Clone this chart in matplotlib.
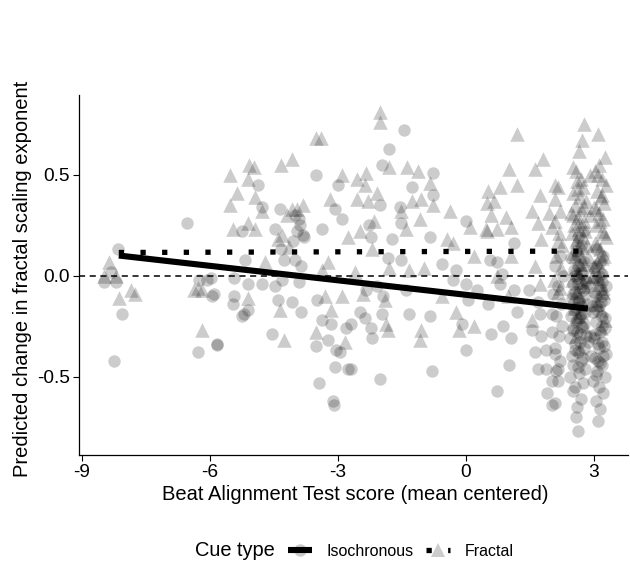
import matplotlib
matplotlib.use("Agg")
import matplotlib.pyplot as plt
from matplotlib.lines import Line2D
from matplotlib.legend_handler import HandlerTuple

plt.rcParams['font.family'] = ['Liberation Sans', 'DejaVu Sans']
plt.rcParams['axes.unicode_minus'] = False

# ---------------- data ----------------
# Isochronous cue (circles)
iso_x = [
    -8.16, -8.32, -8.48, -8.20, -8.06, -8.25,
    -6.54, -6.24, -5.98, -5.95, -6.28, -5.84, -6.07,
    -3.50, -4.88, -3.00, -4.36, -4.78, -4.01, -3.36, -4.48, -5.25, -3.78, -3.07, -2.91,
    -3.95, -3.88, -3.82, -4.05, -3.90,
    -4.32, -4.25, -5.18, -4.00, -3.85,
    -5.42, -5.11, -4.78, -4.48, -4.30, -3.90,
    -5.42, -5.46, -5.11, -5.25, -5.20, -4.41, -4.08, -3.87, -4.53, -3.48, -3.36, -3.24,
    -3.50, -3.03, -2.95, -3.07, -2.77, -3.43, -3.12, -3.10, -5.82, -5.90, -2.80, -3.15,
    -1.44, -1.79, -1.97, -0.78, -1.27, -0.78, -2.02, -1.55, -1.51, -2.26, -1.74, -2.21,
    -0.85, 0.00, -0.55, -1.51, -1.83, -0.22, -0.31, 0.00, -2.33, -2.07, -1.39, -1.95,
    -1.97, -2.49, -2.37, -2.21, -2.19, -1.32, -0.85, -0.08, 0.00, -2.68, -2.02, -0.80,
    0.04, 0.27, -2.68,
    1.14, 0.56, 0.72, 0.84, 0.79, 1.14, 0.51, 1.21, 1.49, 1.68, 1.73, 2.03, 2.03,
    0.86, 0.60, 1.07, 1.54, 1.77, 1.61, 1.89, 2.08, 1.68, 1.89, 2.15, 1.02, 2.03,
    1.91, 2.01, 0.74,
    2.62, 2.58, 2.60, 2.70, 2.50, 2.55, 2.75, 2.45, 2.65, 2.80, 2.52, 2.70, 2.48,
    2.62, 2.78, 2.55, 2.68, 2.45, 2.82, 2.60, 2.50, 2.72, 2.58, 2.66, 2.46, 2.80,
    2.54, 2.70, 2.62, 2.48, 2.76, 2.56, 2.68, 2.50, 2.82, 2.60, 2.72, 2.53, 2.64,
    2.78, 2.47, 2.58, 2.70, 2.62,
    3.10, 3.15, 3.05, 3.22, 3.12, 2.98, 3.25, 3.08, 3.18, 3.02, 3.28, 3.12, 3.20,
    3.00, 3.15, 3.25, 3.06, 3.18, 2.98, 3.12, 3.24, 3.04, 3.16, 3.28, 3.08, 3.20,
    3.00, 3.14, 3.22, 3.06,
    2.10, 2.15, 2.12, 2.20, 2.08, 2.18, 2.25, 2.12, 2.22, 2.05, 2.16, 2.28, 2.10, 2.20,
    2.64, 2.74, 2.56, 2.86, 2.68, 2.50, 2.78, 2.60, 2.70, 2.58,
    2.84, 2.66, 2.52, 2.74, 2.62, 2.80, 2.56, 2.70, 2.64, 2.76,
    3.04, 3.14, 3.22, 3.10, 3.02, 3.18, 3.26, 3.08, 3.16, 3.00,
    3.20, 3.12, 3.06, 3.24, 3.10, 3.18, 2.92, 2.96, 2.90, 2.94,
]
iso_y = [
    0.13, 0.02, -0.03, -0.03, -0.19, -0.42,
    0.26, -0.02, -0.01, -0.10, -0.38, -0.345, -0.02,
    0.50, 0.45, 0.45, 0.33, 0.34, 0.30, 0.23, 0.23, 0.22, 0.19, 0.33, 0.28,
    0.22, 0.25, 0.20, 0.17, 0.28,
    0.13, 0.08, 0.08, 0.08, 0.05,
    -0.01, -0.04, -0.04, -0.05, -0.02, -0.03,
    -0.10, -0.14, -0.17, -0.20, -0.19, -0.12, -0.13, -0.18, -0.29, -0.12, -0.22, -0.32,
    -0.35, -0.37, -0.38, -0.45, -0.46, -0.53, -0.62, -0.64, -0.34, -0.09, -0.26, -0.24,
    0.72, 0.63, 0.55, 0.51, 0.44, 0.40, 0.35, 0.34, 0.26, 0.25, 0.18, 0.19,
    0.19, 0.27, 0.06, 0.08, 0.09, 0.03, -0.02, -0.04, -0.07, -0.05, -0.07, -0.10,
    -0.19, -0.18, -0.21, -0.26, -0.31, -0.19, -0.20, -0.24, -0.37, -0.46, -0.51, -0.47,
    -0.12, -0.07, -0.24,
    0.16, 0.08, 0.07, 0.01, -0.04, -0.07, -0.14, -0.18, -0.07, -0.13, -0.19, -0.19, -0.28,
    -0.25, -0.29, -0.31, -0.27, -0.30, -0.38, -0.37, -0.39, -0.46, -0.46, -0.46, -0.44, -0.52,
    -0.58, -0.64, -0.57,
    -0.77, -0.70, -0.65, -0.61, -0.57, -0.55, -0.53, -0.50, -0.48, -0.46, -0.44, -0.42, -0.40,
    -0.38, -0.36, -0.34, -0.33, -0.31, -0.30, -0.28, -0.26, -0.25, -0.23, -0.21, -0.20, -0.18,
    -0.17, -0.15, -0.13, -0.11, -0.10, -0.08, -0.06, -0.04, -0.03, -0.01, 0.01, 0.03, 0.05,
    0.07, 0.09, 0.12, 0.15, 0.19,
    -0.72, -0.66, -0.62, -0.58, -0.55, -0.52, -0.50, -0.47, -0.44, -0.41, -0.39, -0.36, -0.33,
    -0.31, -0.28, -0.26, -0.23, -0.20, -0.18, -0.15, -0.12, -0.10, -0.07, -0.05, -0.02, 0.01,
    0.04, 0.07, 0.10, 0.13,
    -0.63, -0.52, -0.47, -0.42, -0.36, -0.30, -0.25, -0.20, -0.14, -0.09, -0.05, 0.00, 0.05, 0.10,
    -0.45, -0.41, -0.37, -0.33, -0.29, -0.27, -0.24, -0.22, -0.19, -0.16,
    -0.14, -0.12, -0.09, -0.07, -0.04, -0.02, 0.00, 0.02, 0.10, 0.22,
    -0.49, -0.43, -0.40, -0.34, -0.29, -0.25, -0.21, -0.17, -0.13, -0.08,
    -0.03, 0.00, 0.05, -0.35, -0.42, -0.10, -0.30, -0.15, -0.05, -0.40,
]

# Fractal cue (triangles)
fra_x = [
    -8.37, -8.48, -8.20, -8.13, -7.85, -7.74,
    -6.38, -6.19, -6.28, -6.19,
    -5.53, -5.07, -4.97, -5.11, -5.35, -5.53, -4.95, -5.46, -5.11, -4.78, -4.95,
    -4.32, -4.08, -3.50, -3.40, -3.82, -4.08, -4.71, -4.36, -4.25, -5.11, -3.31,
    -3.50, -3.19, -2.89, -2.91, -2.84, -3.38, -3.24, -3.15, -2.77,
    -4.20, -4.30, -4.15, -4.40, -3.95,
    -2.02, -2.02, -1.79, -1.37, -1.13, -2.33, -2.56, -2.37, -2.07, -2.56, -2.30,
    -0.85, -1.04, -0.78, -1.27, -1.51, -0.38, 0.09, 0.48, -1.08, -1.39, -2.14, -2.49,
    -0.45, -0.31, 0.20, -0.97, -1.32, -1.79, -2.19, -2.60, -0.55, -0.22, -0.15, 0.20,
    -1.04, -1.08, -1.83, -1.86, 0.50, -2.42, -1.90,
    1.21, 1.80, 1.61, 1.02, 1.21, 0.79, 0.51, 2.08, 1.73, 0.67, 1.56, 1.96, 0.60,
    0.95, 1.07, 1.68, 2.03, 0.74, 0.49, 1.77, 2.15, 1.07, 1.61, 0.74, 1.73, 0.98,
    1.54, 2.20,
    2.78, 2.72, 2.66, 2.50, 2.90, 2.60, 2.75, 2.52, 2.68, 2.82, 2.56, 2.70, 2.46,
    2.62, 2.78, 2.54, 2.66, 2.48, 2.74, 2.58, 2.84, 2.62, 2.52, 2.70, 2.80, 2.56,
    2.66, 2.48, 2.76, 2.60, 2.70, 2.54, 2.64, 2.78, 2.58, 2.68,
    3.09, 3.25, 3.12, 3.02, 3.20, 3.28, 3.08, 3.16, 3.24, 3.00, 3.12, 3.22, 3.06,
    3.18, 3.28, 3.02, 3.14, 3.24, 3.08, 3.18, 2.98, 3.12, 3.22, 3.05, 3.16, 3.26,
    2.15, 2.10, 2.20, 2.08, 2.18, 2.25, 2.12, 2.22, 2.06, 2.16,
    2.58, 2.70, 2.64, 2.76, 2.52, 2.66, 2.80, 2.60, 2.72, 2.56,
    2.68, 2.62, 2.74, 2.86, 2.54, 2.70, 3.10, 3.20, 3.04, 3.14,
    3.24, 3.08, 3.18, 3.00, 3.12, 3.22, 3.06, 3.16, 2.92, 2.96,
]
fra_y = [
    0.07, 0.00, 0.00, -0.11, -0.07, -0.09,
    -0.07, -0.07, -0.06, -0.27,
    0.50, 0.55, 0.54, 0.48, 0.41, 0.35, 0.39, 0.23, 0.26, 0.32, 0.23,
    0.55, 0.58, 0.68, 0.68, 0.35, 0.33, 0.07, -0.17, -0.32, -0.11, -0.10,
    -0.28, 0.38, 0.50, -0.10, -0.33, 0.03, 0.07, -0.17, 0.19,
    0.30, 0.20, 0.14, 0.18, 0.33,
    0.81, 0.76, 0.54, 0.54, 0.52, 0.51, 0.48, 0.45, 0.41, 0.38, 0.37,
    0.46, 0.38, 0.35, 0.37, 0.32, 0.32, 0.24, 0.23, 0.28, 0.23, 0.27, 0.22,
    0.18, 0.16, 0.10, 0.04, 0.03, 0.04, 0.13, 0.02, -0.10, -0.18, -0.27, -0.25,
    -0.27, -0.32, -0.27, -0.24, 0.36, -0.09, -0.12,
    0.70, 0.58, 0.53, 0.53, 0.45, 0.44, 0.42, 0.45, 0.40, 0.37, 0.32, 0.31, 0.30,
    0.29, 0.24, 0.26, 0.24, 0.23, 0.22, 0.18, 0.17, 0.10, 0.05, 0.00, -0.04, -0.10,
    -0.22, -0.06,
    0.75, 0.67, 0.62, 0.54, 0.50, 0.47, 0.44, 0.41, 0.39, 0.37, 0.35, 0.33, 0.31,
    0.29, 0.27, 0.25, 0.23, 0.21, 0.19, 0.17, 0.15, 0.13, 0.11, 0.09, 0.06, 0.04,
    0.01, -0.02, -0.05, -0.08, -0.12, -0.16, -0.20, -0.25, -0.30, -0.36,
    0.70, 0.59, 0.55, 0.52, 0.48, 0.45, 0.42, 0.39, 0.36, 0.34, 0.31, 0.28, 0.25,
    0.22, 0.19, 0.16, 0.13, 0.10, 0.07, 0.03, 0.00, -0.04, -0.08, -0.12, -0.17, -0.22,
    0.44, 0.38, 0.32, 0.27, 0.21, 0.15, 0.10, 0.04, -0.02, -0.08,
    0.52, 0.48, 0.43, 0.34, 0.30, 0.26, 0.22, 0.18, 0.14, 0.10,
    0.06, 0.02, -0.03, 0.10, -0.10, -0.18, 0.50, 0.40, 0.33, 0.27,
    0.21, 0.15, 0.09, 0.05, -0.01, -0.06, -0.14, -0.26, 0.30, 0.00,
]

# model-predicted lines (end points)
iso_line_x = [-8.13, 2.86]
iso_line_y = [0.100, -0.163]
fra_line_x = [-8.13, 2.86]
fra_line_y = [0.115, 0.122]

legend_labels = ["Isochronous", "Fractal"]
legend_title = "Cue type"
xticks = [-9, -6, -3, 0, 3]
xticklabels = ["-9", "-6", "-3", "0", "3"]
yticks = [-0.5, 0.0, 0.5]
yticklabels = ["-0.5", "0.0", "0.5"]

# ---------------- figure ----------------
fig = plt.figure(figsize=(6.30, 5.64), dpi=100)
ax = fig.add_axes([79/630, 1-455/564, (628-79)/630, (455-95)/564])

ax.scatter(iso_x, iso_y, s=80, marker='o', color='black', alpha=0.2, linewidths=0, zorder=2)
ax.scatter(fra_x, fra_y, s=110, marker='^', color='black', alpha=0.2, linewidths=0, zorder=2)

ax.axhline(0, color='black', lw=1.1, ls=(0, (4, 3)), zorder=3)
ax.plot(iso_line_x, iso_line_y, color='black', lw=4.4, solid_capstyle='butt', zorder=4)
ax.plot(fra_line_x, fra_line_y, color='black', lw=3.8, ls=(0, (1, 3.1)),
        dash_capstyle='butt', zorder=4)

ax.set_xlim(-9.063, 3.80)
ax.set_ylim(-0.888, 0.895)
ax.set_xticks(xticks)
ax.set_xticklabels(xticklabels)
ax.set_yticks(yticks)
ax.set_yticklabels(yticklabels)
ax.tick_params(axis='both', labelsize=13.8, length=4.3, width=0.8, color='black',
               labelcolor='black', pad=2.5)
for s in ['top', 'right']:
    ax.spines[s].set_visible(False)
for s in ['left', 'bottom']:
    ax.spines[s].set_linewidth(0.9)
    ax.spines[s].set_color('black')

ax.set_xlabel("Beat Alignment Test score (mean centered)", fontsize=14.5)
ax.set_ylabel("Predicted change in fractal scaling exponent", fontsize=14.5)
ax.xaxis.set_label_coords(0.504, -0.083)
ax.yaxis.set_label_coords(-0.086, 0.49)

# legend
iso_handle = (Line2D([], [], marker='o', ls='none', color='black', alpha=0.2,
                     markersize=9, markeredgewidth=0),
              Line2D([], [], color='black', lw=4.4, solid_capstyle='butt'))
fra_handle = (Line2D([], [], marker='^', ls='none', color='black', alpha=0.2,
                     markersize=10, markeredgewidth=0),
              Line2D([], [], color='black', lw=3.8, ls=(0, (1, 3.1)), dash_capstyle='butt'))
fig.text(195/630, 1-551/564, legend_title, fontsize=14.4, va='center', ha='left')
fig.legend([iso_handle, fra_handle], legend_labels,
           handler_map={tuple: HandlerTuple(ndivide=1)},
           loc='center left', bbox_to_anchor=(288/630, 1-551/564),
           ncol=2, frameon=False, fontsize=11.5, handlelength=1.5,
           handletextpad=0.9, columnspacing=0.8, borderpad=0, borderaxespad=0)

fig.savefig("out.png", dpi=100)
